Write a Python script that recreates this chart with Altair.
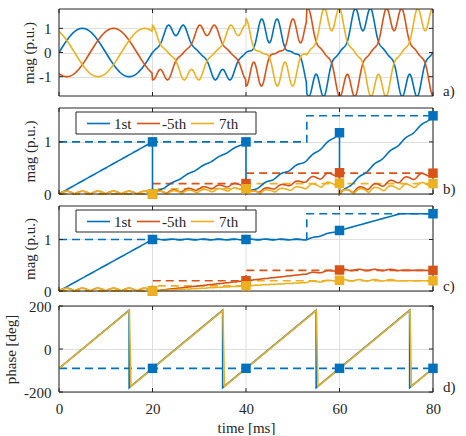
import numpy as np
import pandas as pd
import altair as alt

alt.data_transformers.disable_max_rows()

# ---- harmonic content of the three-phase test voltage ----
PERIOD_MS = 20.0                           # 50 Hz fundamental
SEG_EDGES = [0.0, 20.0, 40.0, 53.0, 80.0]  # instants where the content changes [ms]
MAG_1ST = [1.0, 1.0, 1.0, 1.5]             # positive-sequence fundamental [p.u.]
MAG_5TH = [0.0, 0.2, 0.4, 0.4]             # negative-sequence 5th [p.u.]
MAG_7TH = [0.0, 0.1, 0.2, 0.2]             # positive-sequence 7th [p.u.]
HARM_NAMES = ["1st", "-5th", "7th"]
HARM_ORDERS = [1, -5, 7]                   # signed order: the sign gives the sequence
START_PHASE_DEG = -90.0
PHASES = ["a", "b", "c"]
PHASE_ROT_DEG = [0.0, -120.0, 120.0]
SAMPLE_MS = [20.0, 40.0, 60.0, 80.0]       # instants the estimates are read out

# ---- phase angle of the fundamental estimates [deg] ----
PHASE_T_B = [0.0, 15.0, 15.0, 35.0, 35.0, 55.0, 55.0, 75.0, 75.0, 80.0]
PHASE_V_B = [-90, 180, -180, 180, -180, 180, -180, 180, -180, -90]
PHASE_T_C = [0.0, 15.05, 15.4, 35.05, 35.4, 55.05, 55.4, 75.05, 75.4, 80.0]
PHASE_V_C = [-90, 180, -174, 180, -174, 180, -174, 180, -174, -90]
PHASE_REF_DEG = -90.0

# ---- axes ----
X_TICKS = [0, 20, 40, 60, 80]
Y_TICKS_A = [-1, 0, 1]
Y_TICKS_MAG = [0, 1]
Y_TICKS_PH = [-200, 0, 200]

# ---- style ----
COLORS = ["#0072BD", "#D95319", "#EDB120"]
FONT = "Liberation Serif"
INK = "#262626"
GRID = "#dfdfdf"
W = 374
HEIGHTS = [87, 86, 85, 89]
TOPS = [0, 0, 0, 3]          # blank strip above the plot box (widens the gap before d)
TICK_LEN = 4

# ---------------- signal synthesis and DFT estimates ----------------
DT = 0.005
STRIDE = 20                                 # keep one point every 0.1 ms
t = np.round(np.arange(0.0, 80.0 + DT / 2, DT), 6)
w = 2 * np.pi / PERIOD_MS
seg = np.clip(np.searchsorted(SEG_EDGES, t, side="right") - 1, 0, len(MAG_1ST) - 1)
mags = [np.asarray(m)[seg] for m in (MAG_1ST, MAG_5TH, MAG_7TH)]
phi0 = np.deg2rad(START_PHASE_DEG)
vs = sum(m * np.exp(1j * (h * w * t + phi0)) for m, h in zip(mags, HARM_ORDERS))
keep = np.arange(0, len(t), STRIDE)

wave_df = pd.concat([
    pd.DataFrame({"t": t[keep],
                  "v": np.real(vs * np.exp(1j * np.deg2rad(rot)))[keep],
                  "phase": name})
    for name, rot in zip(PHASES, PHASE_ROT_DEG)
], ignore_index=True)


def cumint(z):
    return np.concatenate([[0.0], np.cumsum((z[1:] + z[:-1]) * DT / 2)])


n_per = int(round(PERIOD_MS / DT))
blk, sld, mk_b, mk_c = [], [], [], []
for name, h in zip(HARM_NAMES, HARM_ORDERS):
    C = cumint(vs * np.exp(-1j * h * w * t))
    order = 0
    # estimate restarted at every period
    for k in range(int(round(80.0 / PERIOD_MS))):
        i0 = k * n_per
        ii = np.arange(i0, i0 + n_per + 1, STRIDE)
        m = np.abs(C[ii] - C[i0]) / PERIOD_MS
        blk.append(pd.DataFrame({"t": t[ii], "mag": m, "harm": name,
                                 "o": np.arange(order, order + len(ii))}))
        order += len(ii)
        mk_b.append({"t": t[ii[-1]], "mag": m[-1], "harm": name})
    # sliding one-period window
    lag = np.maximum(np.arange(len(t)) - n_per, 0)
    s = np.abs(C - C[lag]) / PERIOD_MS
    sld.append(pd.DataFrame({"t": t[keep], "mag": s[keep], "harm": name}))
    for ts in SAMPLE_MS:
        i = int(round(ts / DT))
        mk_c.append({"t": ts, "mag": s[i], "harm": name})

blk_df = pd.concat(blk, ignore_index=True)
sld_df = pd.concat(sld, ignore_index=True)
mkb_df = pd.DataFrame(mk_b)
mkc_df = pd.DataFrame(mk_c)
mkb_df["r"] = mkb_df["harm"].map({n: i for i, n in enumerate(HARM_NAMES)})
mkc_df["r"] = mkc_df["harm"].map({n: i for i, n in enumerate(HARM_NAMES)})
mkb_df = mkb_df.sort_values(["t", "r"])
mkc_df = mkc_df.sort_values(["t", "r"])

ref_rows = []
for name, seg_m in zip(HARM_NAMES, (MAG_1ST, MAG_5TH, MAG_7TH)):
    for k, m in enumerate(seg_m):
        ref_rows.append({"t": SEG_EDGES[k], "mag": m, "harm": name, "o": 2 * k})
        ref_rows.append({"t": SEG_EDGES[k + 1], "mag": m, "harm": name, "o": 2 * k + 1})
ref_df = pd.DataFrame(ref_rows)

ph_df = pd.concat([
    pd.DataFrame({"t": PHASE_T_B, "deg": PHASE_V_B, "s": "b", "o": range(len(PHASE_T_B))}),
    pd.DataFrame({"t": PHASE_T_C, "deg": PHASE_V_C, "s": "c", "o": range(len(PHASE_T_C))}),
], ignore_index=True)
ph_ref_df = pd.DataFrame({"t": [0.0, 80.0], "deg": [PHASE_REF_DEG] * 2})
ph_mk_df = pd.DataFrame({"t": SAMPLE_MS, "deg": [PHASE_REF_DEG] * len(SAMPLE_MS)})

# ---------------- chart helpers ----------------
X_SCALE = alt.Scale(domain=[0, 80], nice=False, zero=False)
HARM_COLOR = alt.Scale(domain=HARM_NAMES, range=COLORS)
NEG_LABEL = "datum.value < 0 ? '-' + abs(datum.value) : '' + datum.value"


def x_axis(show):
    if show:
        return alt.Axis(values=X_TICKS, grid=False, ticks=False, domain=False,
                        labelFlush=False, labelPadding=9,
                        title="time [ms]", titlePadding=4)
    return alt.Axis(values=X_TICKS, grid=False, ticks=False, domain=False,
                    labels=False, title=None, labelPadding=0)


def y_axis(values, title, title_x, h, top):
    return alt.Axis(values=values, grid=True, ticks=False, domain=False, title=title,
                    titleX=title_x, titleY=(h + top) / 2, titleBaseline="middle",
                    titleAngle=270, titleAlign="center",
                    labelPadding=8, labelExpr=NEG_LABEL, labelFlush=False)


def y_scale(domain, h, top):
    return alt.Scale(domain=domain, nice=False, zero=False, range=[h, top])


def grid_x(show_x, h, top):
    """Vertical grid lines, kept inside the plot box."""
    return alt.Chart(pd.DataFrame({"t": X_TICKS})).mark_rule(color=GRID, strokeWidth=1).encode(
        x=alt.X("t:Q", scale=X_SCALE, axis=x_axis(show_x)),
        y=alt.value(top), y2=alt.value(h))


def inner_ticks(y_vals, ys, y_ax, show_x, h, top):
    """Short inward ticks on all four sides plus the box around the plot."""
    xt = pd.DataFrame({"t": X_TICKS})
    yt = pd.DataFrame({"y": y_vals})
    xe = alt.X("t:Q", scale=X_SCALE, axis=x_axis(show_x))
    ye = alt.Y("y:Q", scale=ys, axis=y_ax)
    rule = dict(color=INK, strokeWidth=1)
    return [
        alt.Chart(xt).mark_rule(**rule).encode(x=xe, y=alt.value(top), y2=alt.value(top + TICK_LEN)),
        alt.Chart(xt).mark_rule(**rule).encode(x=xe, y=alt.value(h), y2=alt.value(h - TICK_LEN)),
        alt.Chart(yt).mark_rule(**rule).encode(y=ye, x=alt.value(0), x2=alt.value(TICK_LEN)),
        alt.Chart(yt).mark_rule(**rule).encode(y=ye, x=alt.value(W), x2=alt.value(W - TICK_LEN)),
        alt.Chart(pd.DataFrame({"s": [0]})).mark_rect(
            fill=None, fillOpacity=0, stroke=INK, strokeWidth=1
        ).encode(x=alt.value(0), x2=alt.value(W), y=alt.value(top), y2=alt.value(h)),
    ]


def tag(label, h):
    return alt.Chart(pd.DataFrame({"s": [label]})).mark_text(
        align="left", baseline="middle", font=FONT, fontSize=15, color=INK
    ).encode(x=alt.value(W + 10), y=alt.value(h - 5), text="s:N")


def legend_box():
    layers = [alt.Chart(pd.DataFrame({"s": [0]})).mark_rect(
        fill="white", stroke=INK, strokeWidth=1
    ).encode(x=alt.value(17), x2=alt.value(197), y=alt.value(4), y2=alt.value(26))]
    line_x = [(28, 51), (78, 101), (132, 155)]
    text_x = [55, 103, 160]
    for name, col, (a, b), tx in zip(HARM_NAMES, COLORS, line_x, text_x):
        d = pd.DataFrame({"s": [name]})
        layers.append(alt.Chart(d).mark_rule(color=col, strokeWidth=1.6).encode(
            x=alt.value(a), x2=alt.value(b), y=alt.value(15.5)))
        layers.append(alt.Chart(d).mark_text(
            align="left", baseline="middle", font=FONT, fontSize=15, color=INK
        ).encode(x=alt.value(tx), y=alt.value(15.5), text="s:N"))
    return layers


# ---------------- panel a: phase voltages ----------------
ha, ta = HEIGHTS[0], TOPS[0]
ya = y_scale([-1.8, 1.8], ha, ta)
ya_axis = y_axis(Y_TICKS_A, "mag (p.u.)", -31, ha, ta)
panel_a = alt.layer(
    grid_x(False, ha, ta),
    alt.Chart(wave_df).mark_line(strokeWidth=1.6, clip=True).encode(
        x=alt.X("t:Q", scale=X_SCALE, axis=x_axis(False)),
        y=alt.Y("v:Q", scale=ya, axis=ya_axis),
        color=alt.Color("phase:N", scale=alt.Scale(domain=PHASES, range=COLORS), legend=None),
    ),
    *inner_ticks(Y_TICKS_A, ya, ya_axis, False, ha, ta),
    tag("a)", ha),
).properties(width=W, height=ha)


def magnitude_panel(est_df, mk_df, label, h, top, ordered):
    ym = y_scale([0, 1.65], h, top)
    ym_axis = y_axis(Y_TICKS_MAG, "mag (p.u.)", -30, h, top)
    x = alt.X("t:Q", scale=X_SCALE, axis=x_axis(False))
    y = alt.Y("mag:Q", scale=ym, axis=ym_axis)
    col = alt.Color("harm:N", scale=HARM_COLOR, legend=None)
    dashed = alt.Chart(ref_df).mark_line(strokeWidth=1.6, strokeDash=[8, 5]).encode(
        x=x, y=y, color=col, order="o:Q", detail="harm:N")
    solid_enc = dict(x=x, y=y, color=col, detail="harm:N")
    if ordered:
        solid_enc["order"] = "o:Q"
    solid = alt.Chart(est_df).mark_line(strokeWidth=1.6).encode(**solid_enc)
    marks = alt.Chart(mk_df).mark_square(size=90, opacity=1).encode(x=x, y=y, color=col)
    return alt.layer(
        grid_x(False, h, top), dashed, solid, *inner_ticks(Y_TICKS_MAG, ym, ym_axis, False, h, top),
        marks, *legend_box(), tag(label, h)
    ).properties(width=W, height=h)


panel_b = magnitude_panel(blk_df, mkb_df, "b)", HEIGHTS[1], TOPS[1], True)
panel_c = magnitude_panel(sld_df, mkc_df, "c)", HEIGHTS[2], TOPS[2], False)

# ---------------- panel d: phase angle ----------------
hd, td = HEIGHTS[3], TOPS[3]
yd = y_scale([-200, 200], hd, td)
yd_axis = y_axis(Y_TICKS_PH, "phase [deg]", -49, hd, td)
xd = alt.X("t:Q", scale=X_SCALE, axis=x_axis(True))
yd_enc = alt.Y("deg:Q", scale=yd, axis=yd_axis)
panel_d = alt.layer(
    grid_x(True, hd, td),
    alt.Chart(ph_ref_df).mark_line(strokeWidth=1.6, strokeDash=[8, 5], color=COLORS[0]).encode(
        x=xd, y=yd_enc),
    alt.Chart(ph_df).mark_line(strokeWidth=1.6).encode(
        x=xd, y=yd_enc, order="o:Q",
        color=alt.Color("s:N", scale=alt.Scale(domain=["b", "c"], range=[COLORS[0], COLORS[2]]),
                        legend=None)),
    *inner_ticks(Y_TICKS_PH, yd, yd_axis, True, hd, td),
    alt.Chart(ph_mk_df).mark_square(size=90, opacity=1, color=COLORS[0]).encode(x=xd, y=yd_enc),
    tag("d)", hd),
).properties(width=W, height=hd)

chart = alt.vconcat(
    panel_a, panel_b, panel_c, panel_d, spacing=12, bounds="flush"
).resolve_scale(
    y="independent", color="independent"
).resolve_axis(x="independent", y="independent").properties(
    padding={"left": 3, "top": 8, "right": 0, "bottom": 0}, background="white"
).configure_view(
    stroke=None
).configure_axis(
    labelFont=FONT, labelFontSize=15, labelColor=INK,
    titleFont=FONT, titleFontSize=15, titleFontWeight="normal", titleColor=INK,
    gridColor=GRID, gridWidth=1,
)

chart.save("out.html", embed_options={"renderer": "svg", "actions": False})
